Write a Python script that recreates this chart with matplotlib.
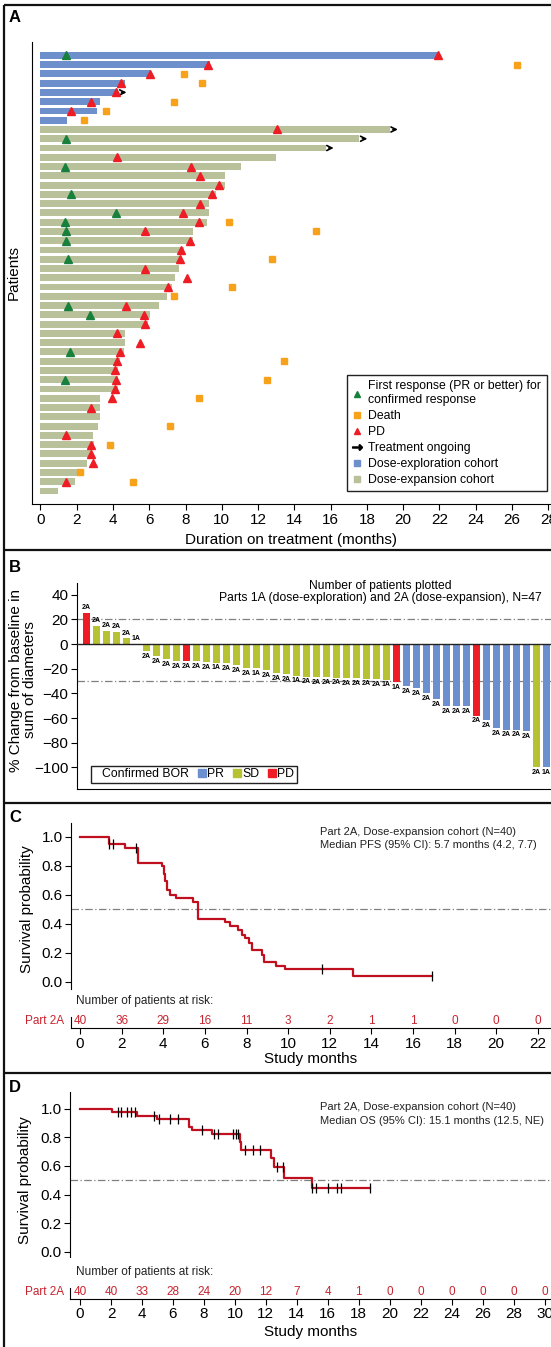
import numpy as np
import matplotlib
matplotlib.use('Agg')
import matplotlib.pyplot as plt
from matplotlib.lines import Line2D

plt.rcParams['font.family'] = ['Liberation Sans', 'DejaVu Sans']

W, H = 551, 1347

# ---------------- panel A: swimmer plot ----------------
durations = [21.9, 9.34, 6.1, 4.65, 4.3, 3.26, 3.1, 1.45,
             19.26, 17.58, 15.72, 12.97, 11.05, 10.17, 10.17, 9.69, 9.28, 9.28,
             9.2, 8.4, 8.4, 7.89, 7.83, 7.64, 7.4, 7.27, 6.98, 6.51, 6.03, 5.93,
             4.65, 4.65, 4.61, 4.4, 4.27, 4.27, 4.26, 3.26, 3.26, 3.26, 3.2,
             2.89, 2.93, 2.85, 2.54, 2.11, 1.9, 0.95]
n_exploration = 8

resp_rows = [1, 10, 13, 16, 18, 19, 20, 21, 23, 28, 29, 33, 36]
resp_times = [1.43, 1.40, 1.38, 1.67, 4.17, 1.36, 1.40, 1.43, 1.51, 1.51, 2.71, 1.63, 1.38]

pd_rows = [1, 2, 3, 4, 5, 6, 7, 9, 12, 13, 14, 15, 16, 17, 18, 19, 20, 21, 22, 23,
           24, 25, 26, 28, 29, 30, 31, 32, 33, 34, 35, 36, 37, 38, 39, 42, 43, 44, 45, 47]
pd_times = [21.9, 9.24, 6.03, 4.44, 4.15, 2.81, 1.67, 13.04, 4.2, 8.28, 8.78, 9.83,
            9.46, 8.82, 7.85, 8.74, 5.74, 8.24, 7.73, 7.67, 5.78, 8.06, 7.02, 4.69,
            5.72, 5.78, 4.24, 5.48, 4.4, 4.24, 4.09, 4.17, 4.13, 3.97, 2.81, 1.41,
            2.81, 2.79, 2.87, 1.41]

death_rows = [2, 3, 4, 6, 7, 8, 19, 20, 23, 26, 27, 34, 36, 38, 41, 43, 46, 47]
death_times = [26.3, 7.9, 8.9, 7.34, 3.64, 2.42, 10.4, 15.17, 12.79, 10.54, 7.38,
               13.45, 12.5, 8.72, 7.15, 3.84, 2.19, 5.12]

ongoing_rows = [5, 9, 10, 11]

# ---------------- panel B: waterfall ----------------
pct_change = [25, 15, 10.5, 9.5, 4.6, 0,
              -6, -10, -12, -13.5, -14, -14, -14.5, -15, -15.5, -17.3,
              -19.2, -19.7, -21, -23.2, -24.5, -25.6, -26.4, -26.7, -26.7, -27.2,
              -27.5, -27.5, -28, -28.5, -28.8, -30.7, -34, -35.5, -40, -44.5,
              -50, -50, -50, -58, -61.3, -68, -69.3, -69.3, -70.7, -100, -100]
bor = (['PD'] + ['SD'] * 5 + ['SD'] * 4 + ['PD'] + ['SD'] * 20 + ['PD']
       + ['PR'] * 7 + ['PD'] + ['PR'] * 5 + ['SD', 'PR'])
part = (['2A'] * 5 + ['1A']
        + ['2A', '2A', '2A', '2A', '2A', '2A', '2A', '1A', '2A', '2A', '2A', '1A', '2A',
           '2A', '2A', '1A', '2A', '2A', '2A', '2A', '2A', '2A', '2A', '2A', '1A', '1A']
        + ['2A'] * 13 + ['2A', '1A'])

# ---------------- panels C / D: Kaplan-Meier ----------------
pfs_t = [0, 1.38, 2.15, 2.76, 3.95, 4.02, 4.1, 4.18, 4.32, 4.62, 5.45, 5.69, 6.96,
         7.2, 7.6, 7.78, 7.95, 8.1, 8.28, 8.75, 8.82, 9.4, 9.86, 13.1]
pfs_s = [1.0, 0.95, 0.925, 0.82, 0.795, 0.745, 0.695, 0.63, 0.60, 0.575, 0.55, 0.435,
         0.41, 0.385, 0.355, 0.325, 0.30, 0.27, 0.22, 0.185, 0.135, 0.11, 0.085, 0.04]
pfs_end = 16.9
pfs_cens = [1.39, 1.59, 2.7, 11.65, 16.9]
pfs_risk_t = list(range(0, 23, 2))
pfs_risk_n = [40, 36, 29, 16, 11, 3, 2, 1, 1, 0, 0, 0]

os_t = [0, 2.04, 3.67, 4.97, 7.05, 7.25, 8.55, 10.3, 10.42, 12.36, 12.55, 13.16, 14.95]
os_s = [1.0, 0.975, 0.95, 0.925, 0.875, 0.85, 0.82, 0.765, 0.71, 0.655, 0.595, 0.515, 0.445]
os_end = 18.7
os_cens = [2.43, 2.65, 3.04, 3.27, 3.56, 4.8, 5.1, 5.78, 6.35, 7.87, 8.67, 8.94,
           9.9, 10.05, 10.2, 10.64, 11.16, 11.6, 12.75, 13.1, 14.97, 15.24, 16.04,
           16.6, 16.88, 18.7]
os_risk_t = list(range(0, 31, 2))
os_risk_n = [40, 40, 33, 28, 24, 20, 12, 7, 4, 1, 0, 0, 0, 0, 0, 0]

BLUE_A = '#6D8FCC'
SAGE = '#B8C199'
GREEN_TRI = '#17803D'
RED_TRI = '#EE1C25'
ORANGE = '#F8A21C'
PR_C = '#6C8FD0'
SD_C = '#B7C232'
PD_C = '#EE1C25'
KM_RED = '#C0101F'
RISK_RED = '#C8242F'


def rect(x0, y0, x1, y1):
    return [x0 / W, 1 - y1 / H, (x1 - x0) / W, (y1 - y0) / H]


fig = plt.figure(figsize=(W / 100, H / 100), dpi=100)


def ftext(x, y, s, **kw):
    fig.text(x / W, 1 - y / H, s, **kw)


bg = fig.add_axes([0, 0, 1, 1], zorder=-1)
bg.set_xlim(0, W)
bg.set_ylim(H, 0)
bg.axis('off')
for seg in [([4, 4], [5, H]), ([4, W], [5, 5]), ([4, W], [550, 550]),
            ([4, W], [803, 803]), ([4, W], [1073, 1073])]:
    bg.plot(seg[0], seg[1], color='#111111', lw=1.6, solid_capstyle='butt')

for lab, y in [('A', 17), ('B', 567), ('C', 817), ('D', 1087)]:
    ftext(9, y, lab, fontsize=12, fontweight='bold', va='center')

# ---- A ----
axA = fig.add_axes(rect(32.3, 41.7, W, 504.3))
rows = np.arange(len(durations))
colors = [BLUE_A if i < n_exploration else SAGE for i in rows]
axA.barh(rows, durations, height=0.74, color=colors)
axA.plot(death_times, np.array(death_rows) - 1, 's', color=ORANGE, ms=4.4, zorder=3)
axA.plot(pd_times, np.array(pd_rows) - 1, '^', color=RED_TRI, ms=5.6, zorder=4)
axA.plot(resp_times, np.array(resp_rows) - 1, '^', color=GREEN_TRI, ms=5.6, zorder=4)
for r in ongoing_rows:
    d = durations[r - 1]
    axA.annotate('', xy=(d + 0.6, r - 1), xytext=(d + 0.02, r - 1),
                 arrowprops=dict(arrowstyle='->', color='black', lw=1.2,
                                 mutation_scale=9))
axA.set_xlim(-0.45, 28.15)
axA.set_ylim(48.44, -1.47)
axA.set_xticks(range(0, 29, 2))
axA.set_yticks([])
for s in ['top', 'right']:
    axA.spines[s].set_visible(False)
axA.tick_params(axis='x', labelsize=11, length=4, pad=2.5)
ftext(291, 540, 'Duration on treatment (months)', fontsize=11, ha='center', va='center')
ftext(14, 273, 'Patients', fontsize=11, ha='center', va='center', rotation=90)

handles = [
    Line2D([], [], ls='', marker='^', color=GREEN_TRI, ms=5),
    Line2D([], [], ls='', marker='s', color=ORANGE, ms=4),
    Line2D([], [], ls='', marker='^', color=RED_TRI, ms=5),
    Line2D([], [], ls='', marker=r'$\rightarrow$', color='black', ms=7),
    Line2D([], [], ls='', marker='s', color=BLUE_A, ms=4),
    Line2D([], [], ls='', marker='s', color=SAGE, ms=4),
]
labels = ['First response (PR or better) for\nconfirmed response', 'Death', 'PD',
          'Treatment ongoing', 'Dose-exploration cohort', 'Dose-expansion cohort']
leg = axA.legend(handles, labels, loc='upper left', bbox_to_anchor=(347 / W, 1 - 375 / H),
                 bbox_transform=fig.transFigure, borderaxespad=0, fontsize=8.8,
                 handlelength=0.8, handletextpad=0.5, labelspacing=0.32,
                 fancybox=False, edgecolor='#222222', framealpha=1, borderpad=0.45)
leg.get_frame().set_linewidth(1.0)

# ---- B ----
axB = fig.add_axes(rect(76.7, 582.7, W, 789.3))
xb = np.arange(len(pct_change))
cmap = {'PR': PR_C, 'SD': SD_C, 'PD': PD_C}
axB.bar(xb, pct_change, width=0.73, color=[cmap[b] for b in bor], zorder=2)
axB.axhline(0, color='#222222', lw=1.0, zorder=3)
for yref in (20, -30):
    axB.axhline(yref, color='#808080', lw=0.9, ls=(0, (6, 2, 1, 2)), zorder=1)
for x, v, p in zip(xb, pct_change, part):
    if v > 0 or (v == 0 and x < 10):
        axB.text(x, v + 1.5, p, fontsize=5, fontweight='bold', ha='center', va='bottom')
    else:
        axB.text(x, v - 1.5, p, fontsize=5, fontweight='bold', ha='center', va='top')
axB.set_xlim(-0.96, 46.47)
axB.set_ylim(-117.7, 49.7)
axB.set_yticks(range(-100, 41, 20))
axB.set_xticks([])
for s in ['top', 'right']:
    axB.spines[s].set_visible(False)
axB.tick_params(axis='y', labelsize=11, length=4, pad=2)
ftext(23, 680, '% Change from baseline in\nsum of diameters', fontsize=11,
      ha='center', va='center', rotation=90, linespacing=1.05)
ftext(380, 592, 'Number of patients plotted\nParts 1A (dose-exploration) and 2A '
      '(dose-expansion), N=47', fontsize=8.7, ha='center', va='center', linespacing=1.0)
hb = [Line2D([], [], ls='', marker='s', color='none', ms=0),
      Line2D([], [], ls='', marker='s', color=PR_C, ms=6),
      Line2D([], [], ls='', marker='s', color=SD_C, ms=6),
      Line2D([], [], ls='', marker='s', color=PD_C, ms=6)]
legB = axB.legend(hb, ['Confirmed BOR', 'PR', 'SD', 'PD'], ncol=4, loc='lower left',
                  bbox_to_anchor=(90.6 / W, 1 - 782.7 / H), bbox_transform=fig.transFigure,
                  borderaxespad=0, fontsize=8.8, handlelength=0.55, handletextpad=0.15,
                  columnspacing=0.8, fancybox=False, edgecolor='#222222',
                  framealpha=1, borderpad=0.2)
legB.get_frame().set_linewidth(1.0)


# ---- C / D ----
def km_panel(top, y1, y0, bottom, risk_top, risk_bot, x_zero, px_month, left,
             t, s, t_end, cens, risk_t, risk_n, xmax_tick, label_y, legend_y, median_txt,
             ylab_x):
    ax = fig.add_axes(rect(left, top, W, bottom))
    unit = y0 - y1
    ax.set_ylim(-(bottom - y0) / unit, 1 + (y1 - top) / unit)
    xlim = (-(x_zero - left) / px_month, (W - x_zero) / px_month)
    ax.set_xlim(*xlim)
    ax.step(list(t) + [t_end], list(s) + [s[-1]], where='post', color=KM_RED, lw=1.6,
            zorder=3)
    tt = np.array(t)
    lev = np.array(s)[np.searchsorted(tt, cens, side='right') - 1]
    ax.vlines(cens, lev - 0.035, lev + 0.035, color='black', lw=0.9, zorder=4)
    ax.axhline(0.5, color='#808080', lw=0.9, ls=(0, (6, 2, 1, 2)), zorder=1)
    ax.set_yticks([0, 0.2, 0.4, 0.6, 0.8, 1.0])
    ax.set_yticklabels(['0.0', '0.2', '0.4', '0.6', '0.8', '1.0'])
    ax.set_xticks([])
    for sp in ['top', 'right', 'bottom']:
        ax.spines[sp].set_visible(False)
    ax.tick_params(axis='y', labelsize=11, length=4, pad=2)

    axr = fig.add_axes(rect(left, risk_top, W, risk_bot))
    axr.set_xlim(*xlim)
    axr.set_ylim(0, 1)
    axr.set_yticks([])
    axr.set_xticks(range(0, xmax_tick + 1, 2))
    axr.tick_params(axis='x', labelsize=11, length=4, pad=2)
    for sp in ['top', 'right']:
        axr.spines[sp].set_visible(False)
    yfrac = 0.62
    for x, n in zip(risk_t, risk_n):
        axr.text(x, yfrac, str(n), color=RISK_RED, fontsize=8.5, ha='center',
                 va='center', transform=axr.get_xaxis_transform())
    ytxt = risk_bot - yfrac * (risk_bot - risk_top)
    ftext(64, ytxt, 'Part 2A', color=RISK_RED, fontsize=8.5, ha='right', va='center')
    ftext(75.5, risk_top - 16, 'Number of patients at risk:', fontsize=8.5,
          color='#222222', ha='left', va='center')
    ftext(311, label_y, 'Study months', fontsize=11, ha='center', va='center')
    ftext(ylab_x, (y0 + y1) / 2, 'Survival probability', fontsize=11, ha='center',
          va='center', rotation=90)
    bg.plot([286, 314.5], [legend_y, legend_y], color=KM_RED, lw=1.6)
    ftext(320, legend_y, 'Part 2A, Dose-expansion cohort (N=40)', fontsize=8,
          ha='left', va='center', color='#222222')
    ftext(320, legend_y + 13.5, median_txt, fontsize=8, ha='left', va='center',
          color='#222222')


km_panel(822.7, 836.7, 981.7, 989, 1017, 1028.3, 80.1, 20.8, 71,
         pfs_t, pfs_s, pfs_end, pfs_cens, pfs_risk_t, pfs_risk_n, 22, 1059, 831.7,
         'Median PFS (95% CI): 5.7 months (4.2, 7.7)', 27)
km_panel(1091.7, 1108.7, 1251.7, 1257, 1288, 1299, 80.1, 15.48, 70,
         os_t, os_s, os_end, os_cens, os_risk_t, os_risk_n, 30, 1332, 1107,
         'Median OS (95% CI): 15.1 months (12.5, NE)', 25)

fig.savefig('out.png', dpi=100)
